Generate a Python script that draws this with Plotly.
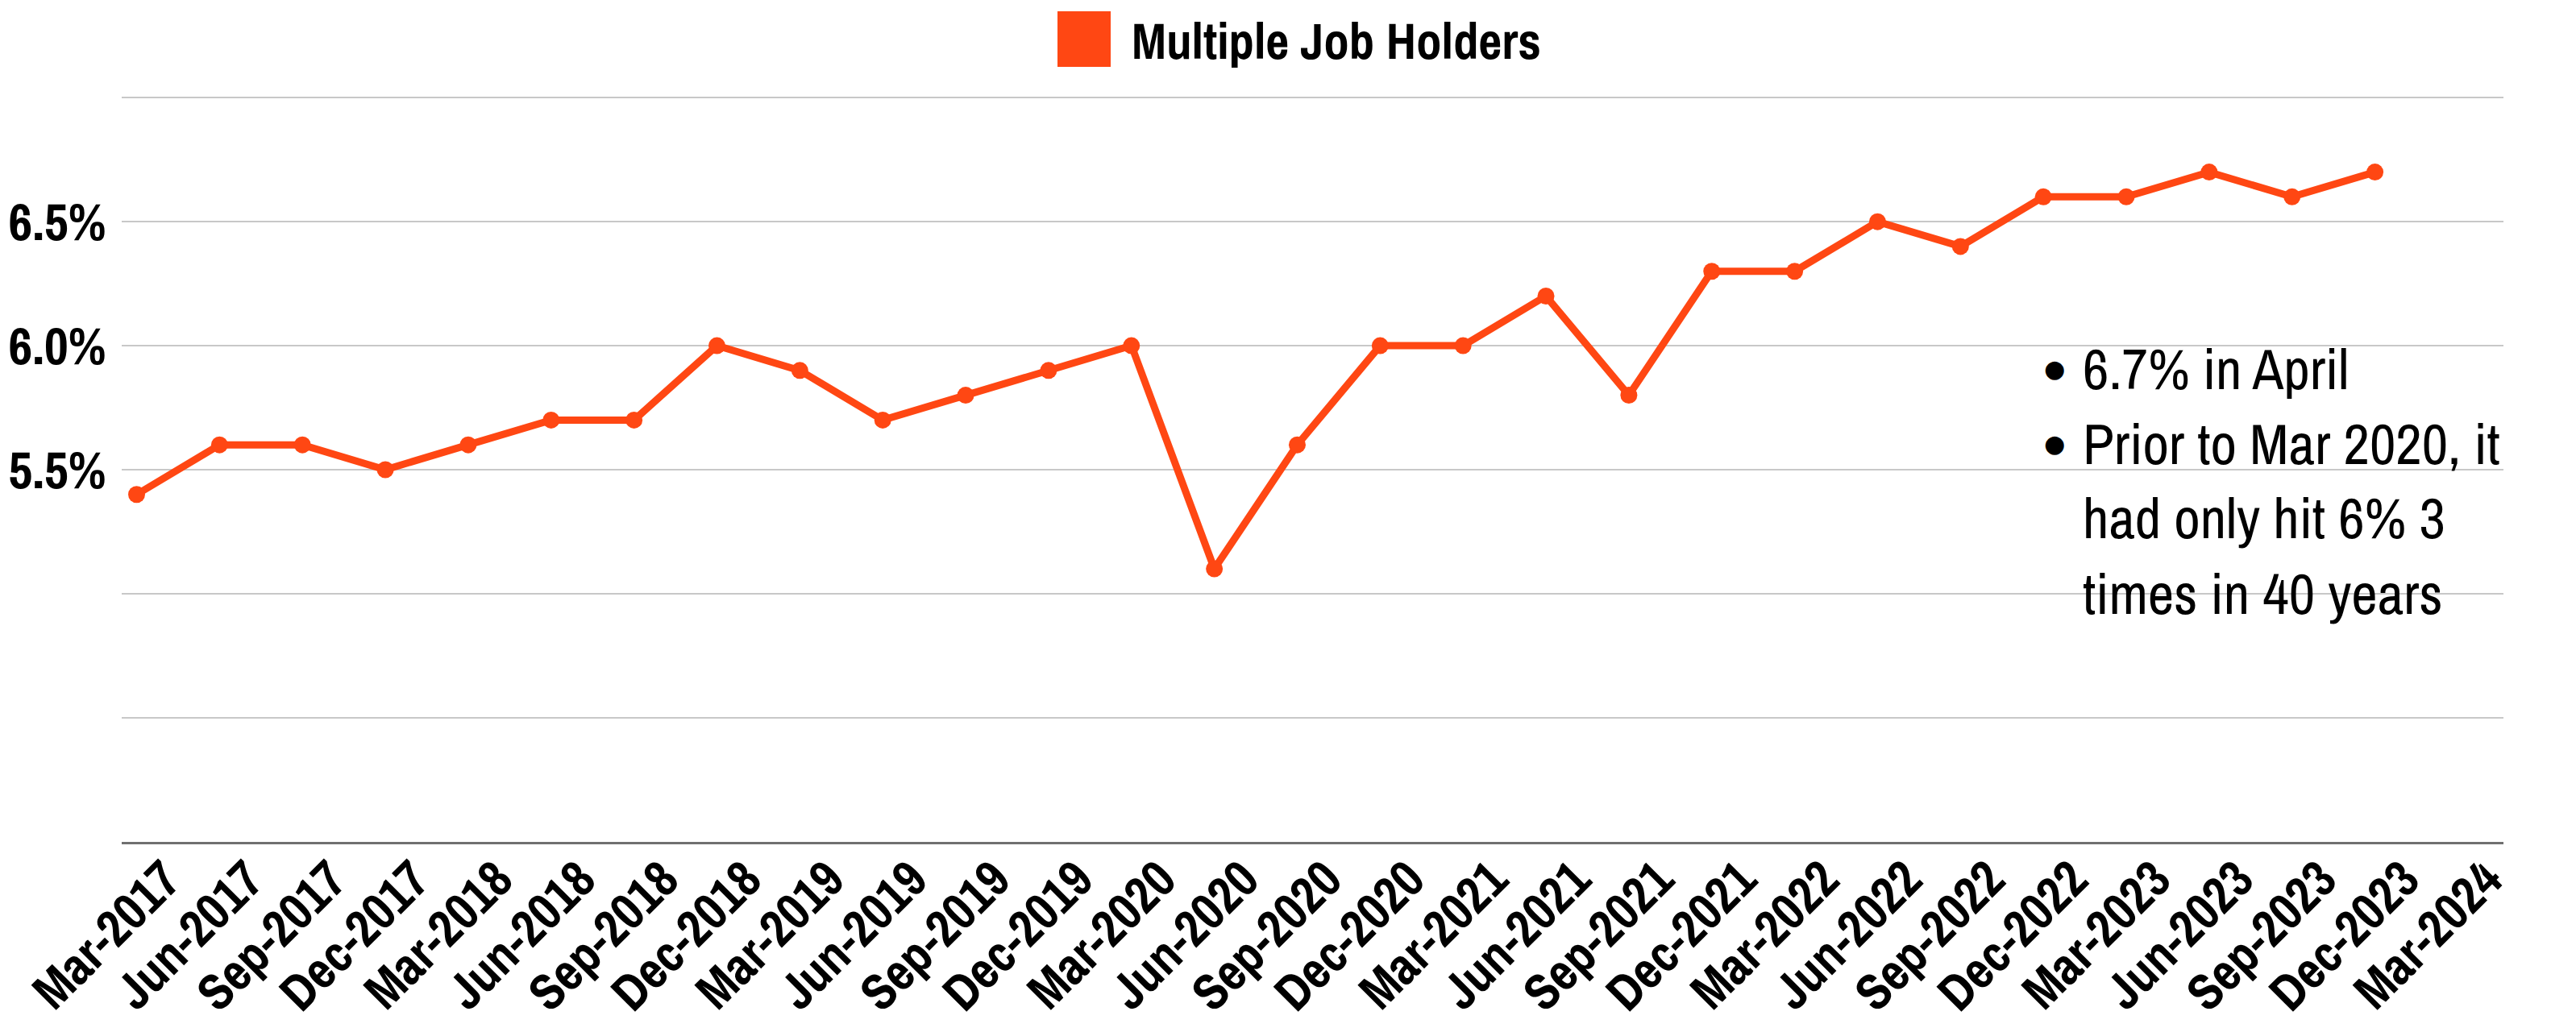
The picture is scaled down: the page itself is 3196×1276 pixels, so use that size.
import plotly.graph_objects as go

months = ["Mar-2017","Jun-2017","Sep-2017","Dec-2017","Mar-2018","Jun-2018","Sep-2018","Dec-2018",
          "Mar-2019","Jun-2019","Sep-2019","Dec-2019","Mar-2020","Jun-2020","Sep-2020","Dec-2020",
          "Mar-2021","Jun-2021","Sep-2021","Dec-2021","Mar-2022","Jun-2022","Sep-2022","Dec-2022",
          "Mar-2023","Jun-2023","Sep-2023","Dec-2023","Mar-2024"]
values = [5.4, 5.6, 5.6, 5.5, 5.6, 5.7, 5.7, 6.0,
          5.9, 5.7, 5.8, 5.9, 6.0, 5.1, 5.6, 6.0,
          6.0, 6.2, 5.8, 6.3, 6.3, 6.5, 6.4, 6.6,
          6.6, 6.7, 6.6, 6.7]
y_ticks = [4.0, 4.5, 5.0, 5.5, 6.0, 6.5, 7.0]
y_ticktext = ["", "", "", "5.5%", "6.0%", "6.5%", ""]
series_name = "Multiple Job Holders"
notes = ["6.7% in April", "Prior to Mar 2020, it", "had only hit 6% 3", "times in 40 years"]
bullets = [True, True, False, False]

ORANGE = "#FF4713"
NARROW = "Archivo Narrow, DejaVu Sans Condensed, Roboto, sans-serif"

x_idx = list(range(len(values)))

fig = go.Figure()
fig.add_trace(go.Scatter(
    x=x_idx, y=values, mode="lines+markers", name=series_name,
    line=dict(color=ORANGE, width=9), marker=dict(color=ORANGE, size=21),
    showlegend=False,
))

fig.update_layout(
    width=3196, height=1276,
    margin=dict(l=143, r=98, t=112, b=239),
    plot_bgcolor="white", paper_bgcolor="white",
    xaxis=dict(
        range=[-0.18, 28.55], automargin=False,
        tickvals=list(range(len(months))), ticktext=months,
        tickangle=-45, ticklabelshift=36, ticklabelstandoff=-20, ticklabeloverflow="allow",
        tickfont=dict(family=NARROW, size=64, color="black", weight="bold"),
        showgrid=False, zeroline=False,
        showline=True, linecolor="#707070", linewidth=3,
        ticks="",
    ),
    yaxis=dict(
        range=[3.999, 7.004], tickvals=y_ticks, ticktext=y_ticktext, automargin=False,
        ticklabelstandoff=18,
        tickfont=dict(family=NARROW, size=65, color="black", weight="bold"),
        showgrid=True, gridcolor="#C8C8C8", gridwidth=2,
        zeroline=False, ticks="",
    ),
)

fig.add_shape(type="rect", xref="paper", yref="paper",
              x0=(1304-143)/2955, x1=(1370-143)/2955,
              y0=(1037-75)/925, y1=(1037-6)/925,
              fillcolor=ORANGE, line=dict(width=0))
fig.add_annotation(xref="paper", yref="paper", x=(1394-143)/2955, y=(1037-42)/925,
                   xanchor="left", yanchor="middle", showarrow=False,
                   text=series_name,
                   font=dict(family=NARROW, size=63, color="black", weight="bold"))

line_y = [449, 542, 634, 728]
for txt, b, yy in zip(notes, bullets, line_y):
    py = (1037 - yy) / 925
    fig.add_annotation(xref="paper", yref="paper", x=(2574-143)/2955, y=py,
                       xanchor="left", yanchor="middle", showarrow=False, text=txt,
                       font=dict(family=NARROW, size=71, color="black"))
    if b:
        fig.add_annotation(xref="paper", yref="paper", x=(2541-143)/2955, y=py,
                           xanchor="center", yanchor="middle", showarrow=False, text="●",
                           font=dict(family="DejaVu Sans", size=30, color="black"))

fig.write_html("out.html")
